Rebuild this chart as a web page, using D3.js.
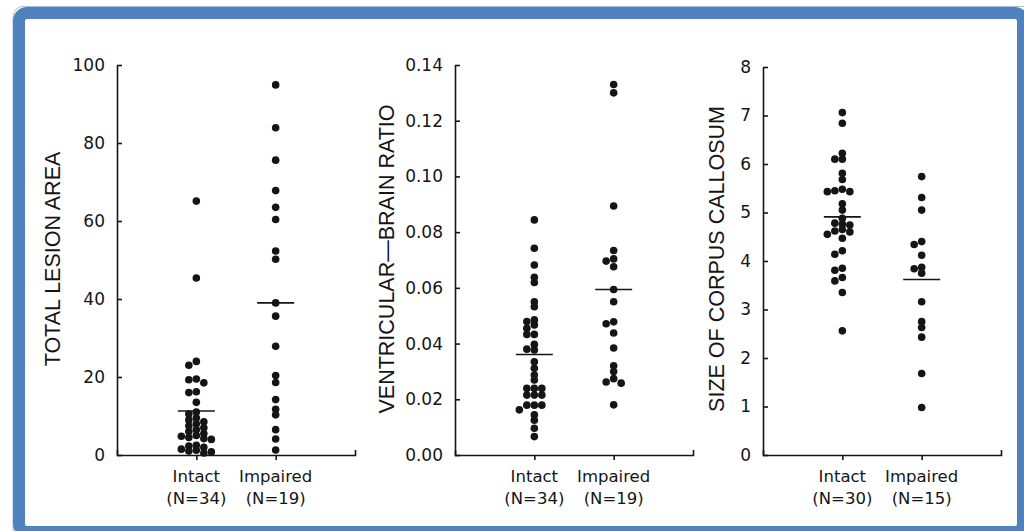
<!DOCTYPE html>
<html>
<head>
<meta charset="utf-8">
<script src="https://cdn.jsdelivr.net/npm/d3@7"></script>
<style>
  body { margin: 0; background: #fff; }
  svg { display: block; }
</style>
</head>
<body>
<svg id="chart" width="1024" height="531"></svg>
<script>
// values
const groups = ["Intact", "Impaired"];

const lesionIntact = [65.1, 45.4, 24.0, 23.0, 19.5, 19.3, 18.5, 16.2, 16.0, 13.5, 11.0, 10.5,
    9.5, 9.0, 8.5, 8.0, 7.5, 7.0, 6.5, 6.0, 5.5, 5.0, 4.8, 4.5, 4.2, 4.0, 2.5, 2.3, 2.0,
    1.5, 1.2, 1.0, 0.8, 0.5];
const lesionImpaired = [94.9, 83.9, 75.6, 67.8, 63.5, 60.4, 52.3, 50.2, 39.0, 35.6, 27.9,
    20.4, 18.6, 14.2, 11.7, 10.3, 6.5, 4.1, 1.3];
const lesionMeans = [11.3, 39.0];
const lesionTicks = [0, 20, 40, 60, 80, 100];

const vbrIntact = [0.0844, 0.0742, 0.0682, 0.0638, 0.0619, 0.0550, 0.0532, 0.0485, 0.0479,
    0.0467, 0.0455, 0.0433, 0.0433, 0.0397, 0.0380, 0.0377, 0.0335, 0.0311, 0.0287, 0.0269,
    0.0239, 0.0239, 0.0239, 0.0215, 0.0215, 0.0215, 0.0179, 0.0179, 0.0179, 0.0162, 0.0144,
    0.0125, 0.0096, 0.0066];
const vbrImpaired = [0.133, 0.130, 0.0894, 0.0734, 0.0704, 0.0696, 0.0676, 0.0594, 0.055,
    0.0478, 0.0471, 0.0438, 0.0384, 0.032, 0.030, 0.0274, 0.0262, 0.0258, 0.018];
const vbrMeans = [0.0361, 0.0594];
const vbrTicks = [0, 0.02, 0.04, 0.06, 0.08, 0.10, 0.12, 0.14];

const ccIntact = [7.06, 6.84, 6.22, 6.10, 6.10, 5.81, 5.68, 5.45, 5.43, 5.43, 5.48, 5.18, 5.05,
    4.88, 4.74, 4.76, 4.78, 4.62, 4.55, 4.60, 4.65, 4.47, 4.14, 4.21, 3.85, 3.81, 3.59, 3.66,
    3.35, 2.56];
const ccImpaired = [5.74, 5.31, 5.05, 4.40, 4.34, 4.12, 3.87, 3.84, 3.75, 3.16, 2.75, 2.63,
    2.43, 1.68, 0.98];
const ccMeans = [4.91, 3.62];
const ccTicks = [0, 1, 2, 3, 4, 5, 6, 7, 8];

const titles = ["TOTAL LESION AREA", "VENTRICULAR\u2014BRAIN RATIO", "SIZE OF CORPUS CALLOSUM"];

// layout of the three panels
const panels = [
    { left: 117, top: 65, titleX: 53, series: [lesionIntact, lesionImpaired], means: lesionMeans, ticks: lesionTicks, fmt: d3.format("d") },
    { left: 455, top: 65, titleX: 387, series: [vbrIntact, vbrImpaired], means: vbrMeans, ticks: vbrTicks, fmt: d3.format(".2f") },
    { left: 763, top: 67, titleX: 717, series: [ccIntact, ccImpaired], means: ccMeans, ticks: ccTicks, fmt: d3.format("d") }
];

const base = 455, axisW = 238, r = 3.8, step = 7.5, minDist = 5;
const ink = "#151515";

const svg = d3.select("#chart");

// blue frame
svg.append("rect")
    .attr("x", 13).attr("y", 6.5).attr("width", 1030).attr("height", 540).attr("rx", 10)
    .attr("fill", "none").attr("stroke", "#a8c0de").attr("stroke-width", 1);
svg.append("rect")
    .attr("x", 19).attr("y", 13).attr("width", 1004).attr("height", 519).attr("rx", 8)
    .attr("fill", "#fff").attr("stroke", "#4f81bd").attr("stroke-width", 12);

// simple beeswarm: dots that would collide are pushed sideways
function swarm(values, y) {
    const placed = [];
    values.map(v => ({ v, y: y(v) }))
        .sort((a, b) => a.y - b.y)
        .forEach(d => {
            for (let k = 0; ; k++) {
                const off = k === 0 ? 0 : (k % 2 ? -1 : 1) * Math.ceil(k / 2) * step;
                if (placed.every(p => Math.hypot(p.dx - off, p.y - d.y) >= minDist)) { d.dx = off; break; }
            }
            placed.push(d);
        });
    return placed;
}

panels.forEach((p, i) => {
    const g = svg.append("g").attr("transform", `translate(${p.left},0)`);
    const y = d3.scaleLinear().domain(d3.extent(p.ticks)).range([base, p.top]);
    const x = d3.scalePoint().domain(groups).range([0, axisW]).padding(1);

    const yAxis = g.append("g")
        .call(d3.axisLeft(y).tickValues(p.ticks).tickFormat(p.fmt)
            .tickSize(-5).tickSizeOuter(0).tickPadding(12));
    const xAxis = g.append("g").attr("transform", `translate(0,${base})`)
        .call(d3.axisBottom(x).tickSize(5).tickSizeOuter(-5).tickFormat(""));

    [yAxis, xAxis].forEach(a => {
        a.selectAll("path, line").attr("stroke", ink).attr("stroke-width", 1.6);
    });
    yAxis.selectAll("text")
        .attr("font-family", "DejaVu Sans").attr("font-size", 17).attr("fill", ink);

    // two-line category labels
    groups.forEach((name, j) => {
        const t = g.append("text")
            .attr("x", x(name)).attr("text-anchor", "middle")
            .attr("font-family", "DejaVu Sans").attr("font-size", 16.5).attr("fill", ink);
        t.append("tspan").attr("x", x(name)).attr("y", 482).text(name);
        t.append("tspan").attr("x", x(name)).attr("y", 504).text(`(N=${p.series[j].length})`);
    });

    // axis title
    svg.append("text")
        .attr("transform", `translate(${p.titleX},259) rotate(-90)`)
        .attr("text-anchor", "middle").attr("dominant-baseline", "central")
        .attr("font-family", "Liberation Sans").attr("font-size", 21.5).attr("fill", ink)
        .text(titles[i]);

    // dots
    p.series.forEach((vals, j) => {
        g.append("g").selectAll("circle")
            .data(swarm(vals, y))
            .join("circle")
            .attr("cx", d => x(groups[j]) + d.dx)
            .attr("cy", d => d.y)
            .attr("r", r)
            .attr("fill", ink);
    });

    // mean lines
    g.append("g").selectAll("line")
        .data(p.means)
        .join("line")
        .attr("x1", (d, j) => x(groups[j]) - 18.5)
        .attr("x2", (d, j) => x(groups[j]) + 18.5)
        .attr("y1", d => y(d)).attr("y2", d => y(d))
        .attr("stroke", ink).attr("stroke-width", 1.6);
});
</script>
</body>
</html>
